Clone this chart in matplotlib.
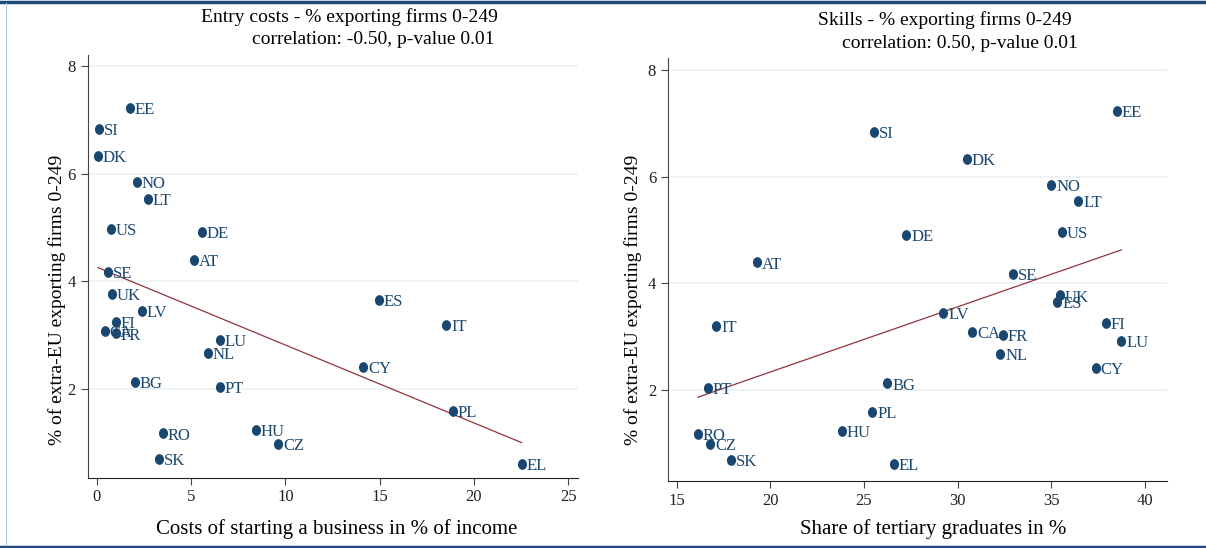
import numpy as np
import matplotlib
matplotlib.use('Agg')
from matplotlib import pyplot as plt
from matplotlib.lines import Line2D
from matplotlib.path import Path
from matplotlib.transforms import Affine2D

countries = ['EE', 'SI', 'DK', 'NO', 'LT', 'US', 'DE', 'AT', 'SE', 'UK', 'ES', 'LV', 'IT', 'FI',
             'CA', 'FR', 'LU', 'NL', 'CY', 'BG', 'PT', 'PL', 'HU', 'RO', 'CZ', 'SK', 'EL']
# % of extra-EU exporting firms 0-249
exporters = [7.23, 6.83, 6.33, 5.85, 5.54, 4.97, 4.91, 4.39, 4.17, 3.77, 3.65, 3.44, 3.19, 3.25,
             3.08, 3.03, 2.91, 2.67, 2.41, 2.12, 2.04, 1.58, 1.23, 1.17, 0.98, 0.69, 0.61]
# costs of starting a business in % of income
entry_costs = [1.75, 0.10, 0.05, 2.12, 2.70, 0.74, 5.57, 5.14, 0.58, 0.80, 14.95, 2.37, 18.54, 1.01,
               0.42, 0.99, 6.52, 5.90, 14.12, 2.01, 6.52, 18.88, 8.43, 3.50, 9.63, 3.32, 22.53]
# share of tertiary graduates in %
graduates = [38.52, 25.55, 30.49, 35.01, 36.45, 35.59, 27.27, 19.30, 32.95, 35.46, 35.33, 29.24, 17.10, 37.93,
             30.80, 32.41, 38.76, 32.28, 37.39, 26.25, 16.64, 25.44, 23.83, 16.12, 16.78, 17.90, 26.59]

navy = '#1a476f'
maroon = '#90353b'
serif = 'Liberation Serif'
plt.rcParams['font.family'] = serif

# slightly tall oval marker like the original
oval = Path.unit_circle().transformed(Affine2D().scale(0.83, 1.0))

fig = plt.figure(figsize=(12.06, 5.48), dpi=100)


def panel(rect, x, xlim, ylim, xticks, xlabel, title1, title2, t1, t2, xl, yl):
    ax = fig.add_axes(rect)
    y = np.array(exporters)
    x = np.array(x)
    ax.plot(x, y, linestyle='none', marker=oval, ms=6.7, color=navy, zorder=3)
    for c, xi, yi in zip(countries, x, y):
        ax.annotate(c, (xi, yi), xytext=(3.5, -1.5), textcoords='offset points',
                    ha='left', va='center', fontsize=12, color=navy, zorder=4)
    # linear fit
    b, a = np.polyfit(x, y, 1)
    xs = np.array([x.min(), x.max()])
    ax.plot(xs, a + b * xs, color=maroon, lw=0.9, zorder=2)
    ax.set_xlim(*xlim)
    ax.set_ylim(*ylim)
    ax.set_xticks(xticks)
    ax.set_yticks([2, 4, 6, 8])
    ax.grid(axis='y', color='#eaf2f3', lw=1.2, zorder=0)
    for s in ['top', 'right']:
        ax.spines[s].set_visible(False)
    ax.spines['left'].set_color('#444444')
    ax.spines['bottom'].set_color('#222222')
    ax.tick_params(labelsize=12, length=5, color='#444444', labelcolor='#222222')
    fig.text(t1[0] / 1206, 1 - t1[1] / 548, title1, ha='center', va='center', fontsize=14)
    fig.text(t2[0] / 1206, 1 - t2[1] / 548, title2, ha='center', va='center', fontsize=14)
    fig.text(xl[0] / 1206, 1 - xl[1] / 548, xlabel, ha='center', va='center', fontsize=15)
    fig.text(yl[0] / 1206, 1 - yl[1] / 548, '% of extra-EU exporting firms 0-249', ha='center',
             va='center', rotation=90, fontsize=14)
    return ax


panel([87.5 / 1206, 1 - 477.5 / 548, 490 / 1206, 422.5 / 548], entry_costs, (-0.5, 25.5), (0.35, 8.21),
      [0, 5, 10, 15, 20, 25], 'Costs of starting a business in % of income',
      'Entry costs - % exporting firms 0-249', 'correlation: -0.50, p-value 0.01',
      (349, 17), (373, 40), (337, 529), (57, 300))
panel([668 / 1206, 1 - 481 / 548, 499 / 1206, 423 / 548], graduates, (14.52, 41.2), (0.29, 8.225),
      [15, 20, 25, 30, 35, 40], 'Share of tertiary graduates in %',
      'Skills - % exporting firms 0-249', 'correlation: 0.50, p-value 0.01',
      (945, 20), (960, 43), (933, 529), (633, 300))

# frame lines of the original
fig.add_artist(Line2D([0, 1], [1 - 1.5 / 548, 1 - 1.5 / 548], color='#1f4a7a', lw=2.5))
fig.add_artist(Line2D([0, 1], [1.5 / 548, 1.5 / 548], color='#1f4a7a', lw=2.5))
fig.add_artist(Line2D([5.5 / 1206, 5.5 / 1206], [3 / 548, 1 - 3 / 548], color='#a9c6e6', lw=0.8))

fig.savefig('out.png', dpi=100)
